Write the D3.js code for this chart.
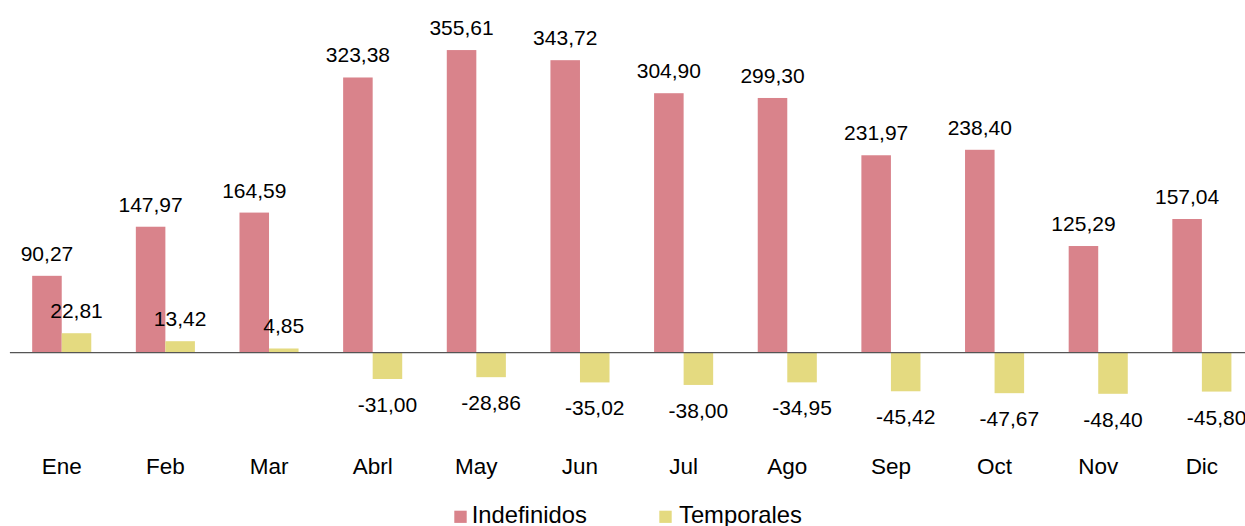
<!DOCTYPE html>
<html>
<head>
<meta charset="utf-8">
<script src="https://cdn.jsdelivr.net/npm/d3@7"></script>
<style>
  body { margin: 0; background: #fff; }
  svg { display: block; font-family: "Liberation Sans", Arial, sans-serif; }
</style>
</head>
<body>
<svg id="chart" width="1245" height="526"></svg>
<script>
const width = 1245;
const height = 526;

const months = ["Ene", "Feb", "Mar", "Abrl", "May", "Jun", "Jul", "Ago", "Sep", "Oct", "Nov", "Dic"];
const series = ["Indefinidos", "Temporales"];
const indefinidos = [90.27, 147.97, 164.59, 323.38, 355.61, 343.72, 304.90, 299.30, 231.97, 238.40, 125.29, 157.04];
const temporales = [22.81, 13.42, 4.85, -31.00, -28.86, -35.02, -38.00, -34.95, -45.42, -47.67, -48.40, -45.80];
const colors = ["#d9838b", "#e4da80"];

const fmt = v => v.toFixed(2).replace(".", ",");

const svg = d3.select("#chart");

// one group per month, two bars side by side
let x0 = d3.scaleBand()
    .domain(months)
    .range([9.9, 1253.7])
    .paddingInner(0.43)
    .paddingOuter(0.215);

let x1 = d3.scaleBand()
    .domain(series)
    .range([0, x0.bandwidth()]);

let y = d3.scaleLinear()
    .domain([-100, 400])
    .range([437.7, 12.3]);

let rows = months.map((m, i) => ({
    month: m,
    values: [
        { key: series[0], value: indefinidos[i], color: colors[0] },
        { key: series[1], value: temporales[i], color: colors[1] }
    ]
}));

let groups = svg.append("g").attr("class", "bars")
    .selectAll("g")
    .data(rows)
    .join("g")
    .attr("transform", d => "translate(" + x0(d.month) + ",0)");

groups.selectAll("rect")
    .data(d => d.values)
    .join("rect")
    .attr("x", d => x1(d.key))
    .attr("width", x1.bandwidth())
    .attr("y", d => Math.min(y(d.value), y(0)))
    .attr("height", d => Math.abs(y(d.value) - y(0)))
    .attr("fill", d => d.color);

groups.selectAll("text")
    .data(d => d.values)
    .join("text")
    .attr("x", d => x1(d.key) + x1.bandwidth() / 2)
    .attr("y", d => d.value >= 0 ? y(d.value) - 15 : y(d.value) + 33)
    .attr("text-anchor", "middle")
    .attr("font-size", 21)
    .attr("fill", "#000")
    .text(d => fmt(d.value));

// zero line
svg.append("line")
    .attr("x1", 9.9)
    .attr("x2", width)
    .attr("y1", y(0))
    .attr("y2", y(0))
    .attr("stroke", "#555")
    .attr("stroke-width", 1.2);

// month labels
svg.append("g").attr("class", "x-axis")
    .selectAll("text")
    .data(months)
    .join("text")
    .attr("x", d => x0(d) + x0.bandwidth() / 2)
    .attr("y", 473.5)
    .attr("text-anchor", "middle")
    .attr("font-size", 22.5)
    .attr("fill", "#000")
    .text(d => d);

// legend (text sits on the bottom edge, like the original)
const legendX = [454.3, 659.3];
const legendTextX = [17.4, 19.7];
let legend = svg.append("g").attr("class", "legend")
    .selectAll("g")
    .data(series)
    .join("g")
    .attr("transform", (d, i) => "translate(" + legendX[i] + ",0)");

legend.append("rect")
    .attr("x", 0)
    .attr("y", 510.7)
    .attr("width", 12.4)
    .attr("height", 12.2)
    .attr("fill", (d, i) => colors[i]);

legend.append("text")
    .attr("x", (d, i) => legendTextX[i])
    .attr("y", 523.3)
    .attr("font-size", 23.8)
    .attr("fill", "#000")
    .text(d => d);
</script>
</body>
</html>
